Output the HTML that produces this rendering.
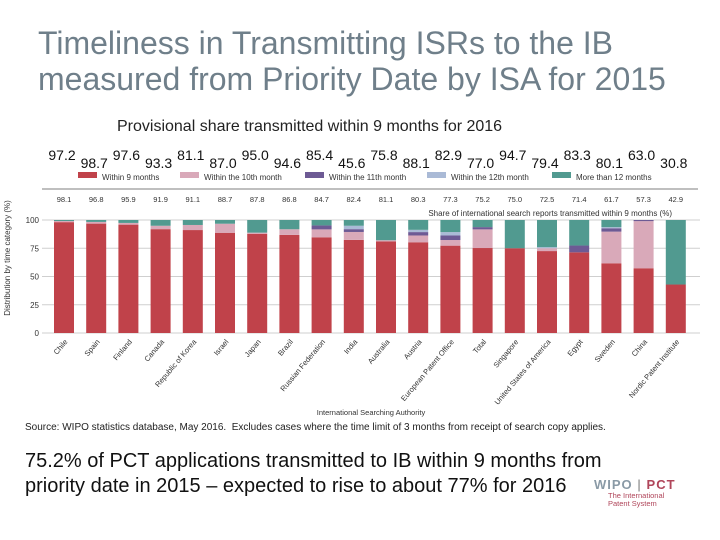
<!DOCTYPE html>
<html><head><meta charset="utf-8"><style>
body{margin:0;width:720px;height:540px;background:#fff;font-family:"Liberation Sans",sans-serif;overflow:hidden;position:relative}
.t{position:absolute;white-space:nowrap}
</style></head><body>
<div class="t" style="left:38px;top:25px;font-size:32px;line-height:36px;color:#6f7f8a">Timeliness in Transmitting ISRs to the IB<br>measured from Priority Date by ISA for 2015</div>
<div class="t" style="left:117px;top:118px;font-size:16px;color:#222">Provisional share transmitted within 9 months for 2016</div>
<svg id="chart" width="720" height="540" style="position:absolute;left:0;top:0" xmlns="http://www.w3.org/2000/svg"></svg>
<div class="t" style="left:25px;top:422px;font-size:10px;color:#222">Source: WIPO statistics database, May 2016.&nbsp; Excludes cases where the time limit of 3 months from receipt of search copy applies.</div>
<div class="t" style="left:25px;top:449px;font-size:20px;line-height:25px;color:#111">75.2% of PCT applications transmitted to IB within 9 months from<br>priority date in 2015 – expected to rise to about 77% for 2016</div>
<div class="t" style="left:594px;top:477px;font-size:13px;font-weight:bold;letter-spacing:1px"><span style="color:#8a9aa6">WIPO</span><span style="color:#aaa"> | </span><span style="color:#b0455a">PCT</span></div>
<div class="t" style="left:608px;top:492px;font-size:7.5px;line-height:8px;color:#b0455a">The International<br>Patent System</div>
<script>
const categories=["Chile","Spain","Finland","Canada","Republic of Korea","Israel","Japan","Brazil","Russian Federation","India","Australia","Austria","European Patent Office","Total","Singapore","United States of America","Egypt","Sweden","China","Nordic Patent Institute"];
const within9=[98.1,96.8,95.9,91.9,91.1,88.7,87.8,86.8,84.7,82.4,81.1,80.3,77.3,75.2,75.0,72.5,71.4,61.7,57.3,42.9];
const within10=[1.0,1.5,1.5,3.0,4.5,8.0,1.0,5.0,7.0,7.0,1.0,6.0,5.0,16.5,0,2.5,0,28.0,41.7,0];
const within11=[0,0,0,0,0,0,0,0,3.5,2.5,0,3.0,4.0,2.0,0,0,6.0,3.0,1.0,0];
const within12=[0,0,0,0,0,0,0,0,0,3.0,0,2.0,3.0,0,0,1.0,0,1.0,0,0];
const over12=[0.9,1.7,2.6,5.1,4.4,3.3,11.2,8.2,4.8,5.1,17.9,8.7,10.7,6.3,25.0,24.0,22.6,6.3,0,57.1];
const provisional2016=[97.2,98.7,97.6,93.3,81.1,87.0,95.0,94.6,85.4,45.6,75.8,88.1,82.9,77.0,94.7,79.4,83.3,80.1,63.0,30.8];
const yTicks=[0,25,50,75,100];
const seriesNames=["Within 9 months","Within the 10th month","Within the 11th month","Within the 12th month","More than 12 months"];
const colors=["#c0424a","#d9a9b9","#6d5a94","#aabad6","#519a90"];

const svg=document.getElementById('chart');
const NS="http://www.w3.org/2000/svg";
const y0=333,y100=220,xL=42,xR=700,x0=64,step=32.2,bw=20;
const yS=v=>y0-(y0-y100)*v/100;
const xS=i=>x0+i*step;
function mk(tag,at,txt){const e=document.createElementNS(NS,tag);for(const k in at)e.setAttribute(k,at[k]);if(txt!==undefined)e.textContent=txt;svg.appendChild(e);return e;}

yTicks.forEach(t=>{
  const l=mk('line',{x1:xL,x2:xR,y1:yS(t),y2:yS(t),stroke:'#cfcfcf','stroke-width':1});
  
  
  const tx=mk('text',{x:39,y:yS(t)+3,'text-anchor':'end','font-size':8,fill:'#333'},t);
  
  
});
const yt=mk('text',{x:10,y:258,'text-anchor':'middle','font-size':8,fill:'#333',transform:'rotate(-90 10 258)'},'Distribution by time category (%)');



const sep=mk('line',{x1:42,x2:698,y1:189,y2:189,stroke:'#999','stroke-width':1.2});



const legX=[78,180,305,427,552];
seriesNames.forEach((n,i)=>{
  const r=mk('rect',{x:legX[i],y:172,width:19,height:6,fill:colors[i]});
  
  
  const t=mk('text',{x:legX[i]+24,y:180,'font-size':8,fill:'#333'},n);
  
  
});
const sh=mk('text',{x:672,y:216,'text-anchor':'end','font-size':8,fill:'#333'},'Share of international search reports transmitted within 9 months (%)');



const series=[within9,within10,within11,within12,over12];
categories.forEach((c,i)=>{
  let acc=0;
  series.forEach((s,k)=>{
    const v=s[i];
    if(v>0){
      const r=mk('rect',{x:xS(i)-bw/2,y:yS(acc+v),width:bw,height:yS(acc)-yS(acc+v),fill:colors[k]});
      
      
    }
    acc+=v;
  });
  const sv=mk('text',{x:xS(i),y:202,'text-anchor':'middle','font-size':7.5,fill:'#333'},within9[i].toFixed(1));
  
  
  const pv=mk('text',{x:xS(i)-2,y:(i%2?168:160),'text-anchor':'middle','font-size':14,fill:'#111'},provisional2016[i].toFixed(1));
  
  
  const xl=mk('text',{x:xS(i)+4,y:342,'text-anchor':'end','font-size':7.5,fill:'#333',transform:`rotate(-50 ${xS(i)+4} 342)`},c);
  
  
});
const xt=mk('text',{x:371,y:415,'text-anchor':'middle','font-size':7.5,fill:'#333'},'International Searching Authority');


</script>
</body></html>
